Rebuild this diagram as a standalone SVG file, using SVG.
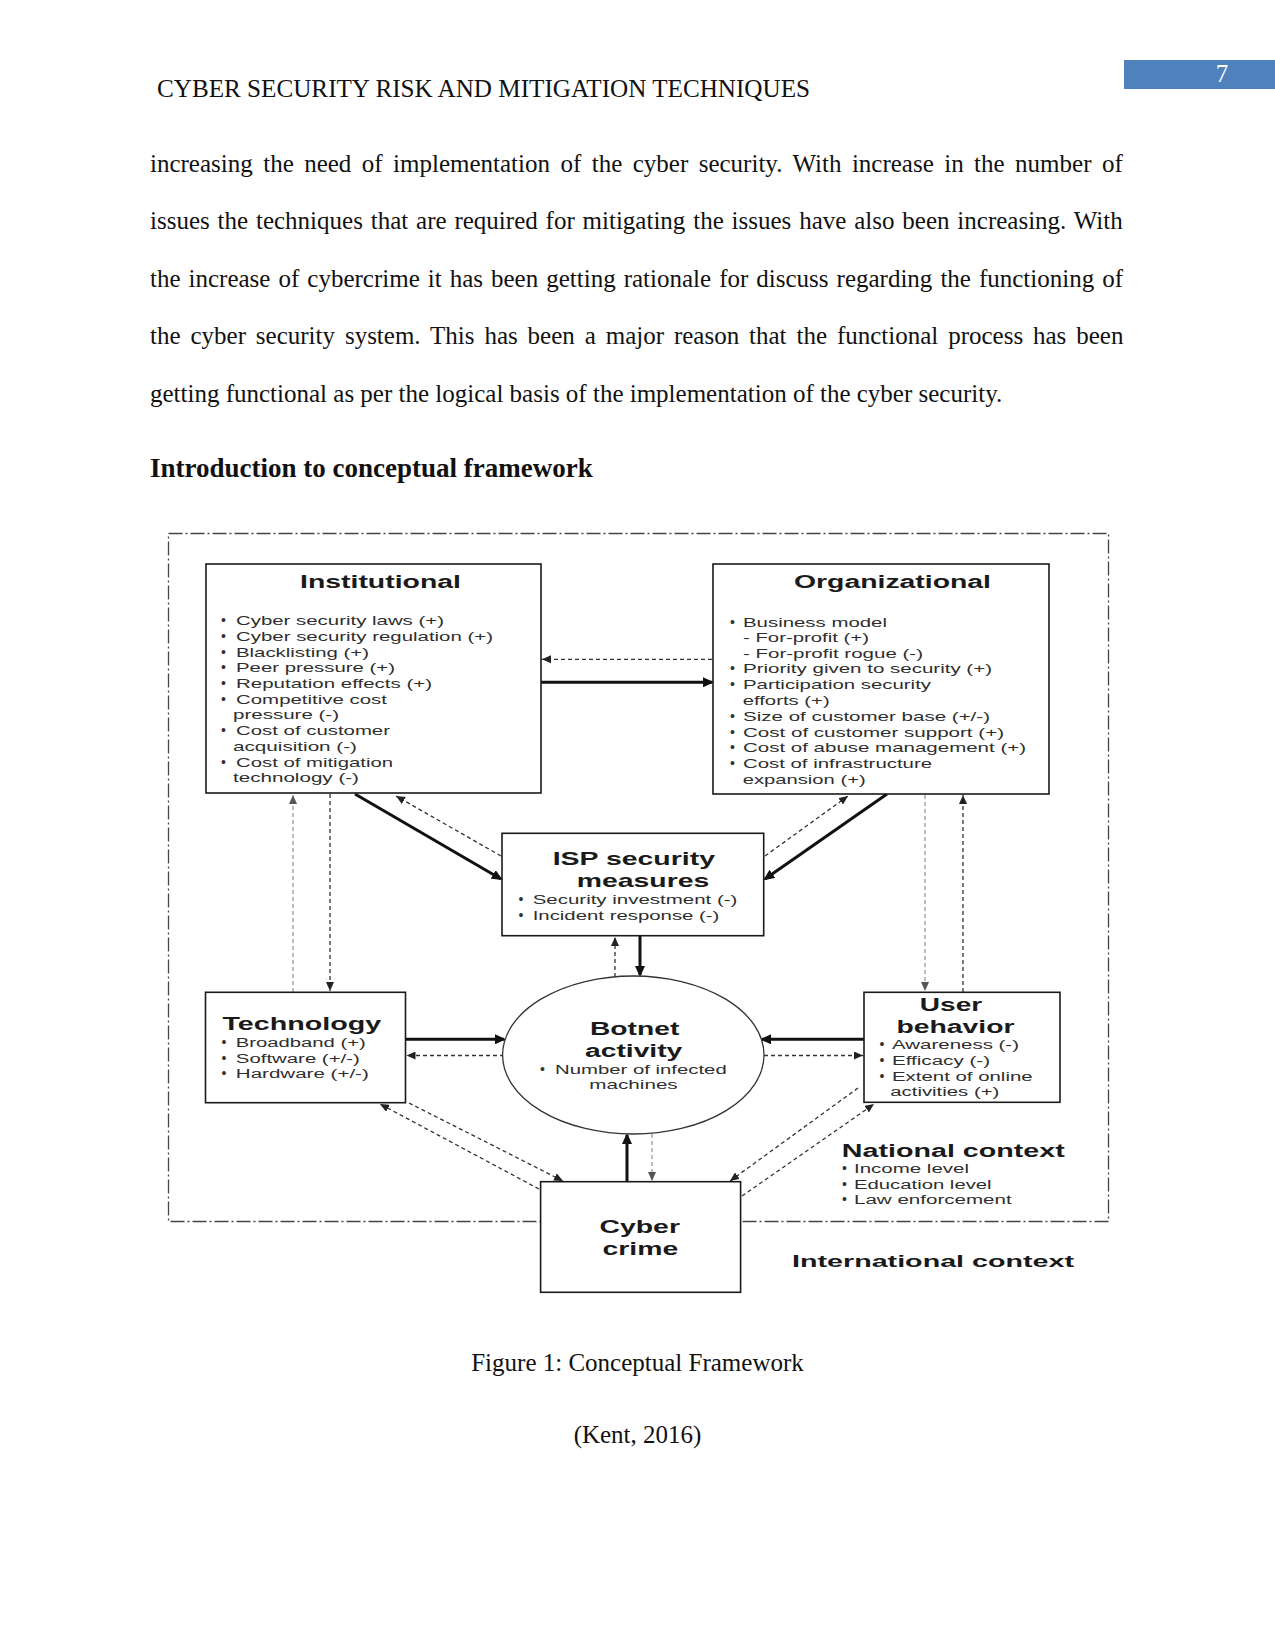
<svg xmlns="http://www.w3.org/2000/svg" width="1275" height="1651" viewBox="0 0 1275 1651">
<style>
.t{font-family:"Liberation Serif","Times New Roman",serif;font-size:25px;fill:#111}
.hd{font-weight:bold;font-size:27px}
.dt{font-family:"Liberation Sans",Arial,sans-serif;font-weight:bold;fill:#1a1a1a}
.di{font-family:"Liberation Sans",Arial,sans-serif;fill:#2e2e2e;font-size:13.5px}
.ds{font-size:12.5px}
.bul{font-family:"Liberation Sans",Arial,sans-serif;fill:#333;font-size:14px}
.box{fill:#fff;stroke:#1a1a1a;stroke-width:1.6}
.solid{stroke:#111;stroke-width:3;fill:none}
.dash{stroke:#333;stroke-width:1.3;stroke-dasharray:4 3;fill:none}
.dashl{stroke:#9a9a9a;stroke-width:1.3;stroke-dasharray:4 3;fill:none}
.border{fill:none;stroke:#444;stroke-width:1.3;stroke-dasharray:14 3 2 3}
</style>
<defs>
<marker id="as" markerUnits="userSpaceOnUse" markerWidth="12" markerHeight="10" refX="9" refY="5" orient="auto"><path d="M0,0 L11,5 L0,10 z" fill="#111"/></marker>
<marker id="ad" markerUnits="userSpaceOnUse" markerWidth="10" markerHeight="8" refX="9" refY="4" orient="auto"><path d="M0,0 L9,4 L0,8 z" fill="#222"/></marker>
<marker id="al" markerUnits="userSpaceOnUse" markerWidth="10" markerHeight="8" refX="9" refY="4" orient="auto"><path d="M0,0 L9,4 L0,8 z" fill="#555"/></marker>
</defs>
<rect width="1275" height="1651" fill="#fff"/>

<g id="page-header">
<text class="t" x="157" y="97" textLength="653" lengthAdjust="spacingAndGlyphs">CYBER SECURITY RISK AND MITIGATION TECHNIQUES</text>
<rect x="1124" y="60" width="151" height="29" fill="#4f81bd"/>
<text class="t" x="1222" y="82" text-anchor="middle" style="fill:#fff">7</text>
</g>

<g id="body-text">
<text class="t" x="150" y="172" word-spacing="4.2">increasing the need of implementation of the cyber security. With increase in the number of</text>
<text class="t" x="150" y="229" word-spacing="1.6">issues the techniques that are required for mitigating the issues have also been increasing. With</text>
<text class="t" x="150" y="286.5" word-spacing="1.77">the increase of cybercrime it has been getting rationale for discuss regarding the functioning of</text>
<text class="t" x="150" y="344" word-spacing="3.65">the cyber security system. This has been a major reason that the functional process has been</text>
<text class="t" x="150" y="401.5">getting functional as per the logical basis of the implementation of the cyber security.</text>
<text class="t hd" x="150" y="477">Introduction to conceptual framework</text>
</g>

<rect id="national-border" class="border" x="168.5" y="533.5" width="940" height="688"/>

<g id="connectors">
<line class="solid" x1="541" y1="682.3" x2="712" y2="682.3" marker-end="url(#as)"/>
<line class="dash" x1="712" y1="659.3" x2="542" y2="659.3" marker-end="url(#ad)"/>
<line class="solid" x1="355" y1="794" x2="501" y2="879" marker-end="url(#as)"/>
<line class="dash" x1="501" y1="856" x2="396" y2="796" marker-end="url(#ad)"/>
<line class="solid" x1="887" y1="794" x2="765" y2="879" marker-end="url(#as)"/>
<line class="dash" x1="765" y1="856" x2="848" y2="796" marker-end="url(#ad)"/>
<line class="dashl" x1="293" y1="992" x2="293" y2="795" marker-end="url(#al)"/>
<line class="dash" x1="330" y1="794" x2="330" y2="991" marker-end="url(#ad)"/>
<line class="dashl" x1="925" y1="795" x2="925" y2="991" marker-end="url(#al)"/>
<line class="dash" x1="963" y1="992" x2="963" y2="795" marker-end="url(#ad)"/>
<line class="solid" x1="640" y1="936" x2="640" y2="975" marker-end="url(#as)"/>
<line class="dash" x1="615" y1="977" x2="615" y2="937" marker-end="url(#ad)"/>
<line class="solid" x1="405.5" y1="1039.3" x2="504" y2="1039.3" marker-end="url(#as)"/>
<line class="dash" x1="504" y1="1055.5" x2="406.5" y2="1055.5" marker-end="url(#ad)"/>
<line class="solid" x1="864" y1="1039.3" x2="762" y2="1039.3" marker-end="url(#as)"/>
<line class="dash" x1="764" y1="1055.5" x2="863" y2="1055.5" marker-end="url(#ad)"/>
<line class="solid" x1="627" y1="1182" x2="627" y2="1135" marker-end="url(#as)"/>
<line class="dashl" x1="652" y1="1134" x2="652" y2="1181" marker-end="url(#al)"/>
<line class="dash" x1="539" y1="1189" x2="380" y2="1104" marker-end="url(#ad)"/>
<line class="dash" x1="409" y1="1103" x2="563" y2="1181" marker-end="url(#ad)"/>
<line class="dash" x1="858" y1="1088" x2="730" y2="1181" marker-end="url(#ad)"/>
<line class="dash" x1="742" y1="1196" x2="874" y2="1104" marker-end="url(#ad)"/>
</g>

<g id="institutional">
<rect class="box" x="206" y="564" width="335" height="229"/>
<text class="dt" x="300" y="588" font-size="18" textLength="161" lengthAdjust="spacingAndGlyphs">Institutional</text>
<text class="bul" x="221" y="625">•</text><text class="di" x="236" y="625" textLength="208" lengthAdjust="spacingAndGlyphs">Cyber security laws (+)</text>
<text class="bul" x="221" y="640.7">•</text><text class="di" x="236" y="640.7" textLength="257" lengthAdjust="spacingAndGlyphs">Cyber security regulation (+)</text>
<text class="bul" x="221" y="656.7">•</text><text class="di" x="236" y="656.7" textLength="133" lengthAdjust="spacingAndGlyphs">Blacklisting (+)</text>
<text class="bul" x="221" y="672.3">•</text><text class="di" x="236" y="672.3" textLength="159" lengthAdjust="spacingAndGlyphs">Peer pressure (+)</text>
<text class="bul" x="221" y="688">•</text><text class="di" x="236" y="688" textLength="196" lengthAdjust="spacingAndGlyphs">Reputation effects (+)</text>
<text class="bul" x="221" y="704">•</text><text class="di" x="236" y="704" textLength="151" lengthAdjust="spacingAndGlyphs">Competitive cost</text>
<text class="di" x="233" y="719.3" textLength="106" lengthAdjust="spacingAndGlyphs">pressure (-)</text>
<text class="bul" x="221" y="735.3">•</text><text class="di" x="236" y="735.3" textLength="154" lengthAdjust="spacingAndGlyphs">Cost of customer</text>
<text class="di" x="233" y="750.7" textLength="124" lengthAdjust="spacingAndGlyphs">acquisition (-)</text>
<text class="bul" x="221" y="766.7">•</text><text class="di" x="236" y="766.7" textLength="157" lengthAdjust="spacingAndGlyphs">Cost of mitigation</text>
<text class="di" x="233" y="782" textLength="126" lengthAdjust="spacingAndGlyphs">technology (-)</text>
</g>

<g id="organizational">
<rect class="box" x="713" y="564" width="336" height="230"/>
<text class="dt" x="794" y="588" font-size="18" textLength="197" lengthAdjust="spacingAndGlyphs">Organizational</text>
<text class="bul" x="730" y="626.7">•</text><text class="di" x="743" y="626.7" textLength="144" lengthAdjust="spacingAndGlyphs">Business model</text>
<text class="di" x="743" y="641.7" textLength="126" lengthAdjust="spacingAndGlyphs">- For-profit (+)</text>
<text class="di" x="743" y="657.7" textLength="180" lengthAdjust="spacingAndGlyphs">- For-profit rogue (-)</text>
<text class="bul" x="730" y="673.3">•</text><text class="di" x="743" y="673.3" textLength="249" lengthAdjust="spacingAndGlyphs">Priority given to security (+)</text>
<text class="bul" x="730" y="689.3">•</text><text class="di" x="743" y="689.3" textLength="188" lengthAdjust="spacingAndGlyphs">Participation security</text>
<text class="di" x="742.7" y="705" textLength="87" lengthAdjust="spacingAndGlyphs">efforts (+)</text>
<text class="bul" x="730" y="721">•</text><text class="di" x="743" y="721" textLength="247" lengthAdjust="spacingAndGlyphs">Size of customer base (+/-)</text>
<text class="bul" x="730" y="736.7">•</text><text class="di" x="743" y="736.7" textLength="261" lengthAdjust="spacingAndGlyphs">Cost of customer support (+)</text>
<text class="bul" x="730" y="752.3">•</text><text class="di" x="743" y="752.3" textLength="283" lengthAdjust="spacingAndGlyphs">Cost of abuse management (+)</text>
<text class="bul" x="730" y="768.3">•</text><text class="di" x="743" y="768.3" textLength="189" lengthAdjust="spacingAndGlyphs">Cost of infrastructure</text>
<text class="di" x="742.7" y="784" textLength="123" lengthAdjust="spacingAndGlyphs">expansion (+)</text>
</g>

<g id="isp-security-measures">
<rect class="box" x="502" y="833.3" width="261.7" height="102.4"/>
<text class="dt" x="552.7" y="865" font-size="19" textLength="162.3" lengthAdjust="spacingAndGlyphs">ISP security</text>
<text class="dt" x="576.7" y="886.7" font-size="19" textLength="132.6" lengthAdjust="spacingAndGlyphs">measures</text>
<text class="bul" x="518.5" y="904.3">•</text><text class="di" x="532.7" y="904.3" font-size="14" textLength="204.7" lengthAdjust="spacingAndGlyphs">Security investment (-)</text>
<text class="bul" x="518.5" y="920">•</text><text class="di" x="532.7" y="920" font-size="14" textLength="186.7" lengthAdjust="spacingAndGlyphs">Incident response (-)</text>
</g>

<g id="botnet-activity">
<ellipse cx="633.3" cy="1055" rx="130.7" ry="79" fill="#fff" stroke="#333" stroke-width="1.3"/>
<text class="dt" x="590" y="1035" font-size="18" textLength="89.3" lengthAdjust="spacingAndGlyphs">Botnet</text>
<text class="dt" x="585" y="1056.7" font-size="18" textLength="97.3" lengthAdjust="spacingAndGlyphs">activity</text>
<text class="bul" x="540" y="1074">•</text><text class="di" x="555" y="1074" textLength="171.7" lengthAdjust="spacingAndGlyphs">Number of infected</text>
<text class="di" x="589.3" y="1089.3" textLength="88.4" lengthAdjust="spacingAndGlyphs">machines</text>
</g>

<g id="technology">
<rect class="box" x="205.5" y="992.3" width="200" height="110.4"/>
<text class="dt" x="222.4" y="1030" font-size="17.5" textLength="158.8" lengthAdjust="spacingAndGlyphs">Technology</text>
<text class="bul" x="221.5" y="1047.3">•</text><text class="di ds" x="235.8" y="1047.3" textLength="130" lengthAdjust="spacingAndGlyphs">Broadband (+)</text>
<text class="bul" x="221.5" y="1062.7">•</text><text class="di ds" x="235.8" y="1062.7" textLength="124" lengthAdjust="spacingAndGlyphs">Software (+/-)</text>
<text class="bul" x="221.5" y="1078.3">•</text><text class="di ds" x="235.8" y="1078.3" textLength="133" lengthAdjust="spacingAndGlyphs">Hardware (+/-)</text>
</g>

<g id="user-behavior">
<rect class="box" x="864" y="992.3" width="196" height="110"/>
<text class="dt" x="919.8" y="1011" font-size="17.5" textLength="62.4" lengthAdjust="spacingAndGlyphs">User</text>
<text class="dt" x="896.4" y="1032.7" font-size="17.5" textLength="118.1" lengthAdjust="spacingAndGlyphs">behavior</text>
<text class="bul" x="879.5" y="1049.3">•</text><text class="di ds" x="892" y="1049.3" textLength="127" lengthAdjust="spacingAndGlyphs">Awareness (-)</text>
<text class="bul" x="879.5" y="1065">•</text><text class="di ds" x="892" y="1065" textLength="98" lengthAdjust="spacingAndGlyphs">Efficacy (-)</text>
<text class="bul" x="879.5" y="1080.7">•</text><text class="di ds" x="892" y="1080.7" textLength="140.6" lengthAdjust="spacingAndGlyphs">Extent of online</text>
<text class="di ds" x="890.3" y="1096" textLength="109" lengthAdjust="spacingAndGlyphs">activities (+)</text>
</g>

<g id="national-context">
<text class="dt" x="841.8" y="1157.3" font-size="17.5" textLength="223" lengthAdjust="spacingAndGlyphs">National context</text>
<text class="bul" x="842" y="1173.3">•</text><text class="di ds" x="854" y="1173.3" textLength="115" lengthAdjust="spacingAndGlyphs">Income level</text>
<text class="bul" x="842" y="1189.3">•</text><text class="di ds" x="854" y="1189.3" textLength="137.6" lengthAdjust="spacingAndGlyphs">Education level</text>
<text class="bul" x="842" y="1204.3">•</text><text class="di ds" x="854" y="1204.3" textLength="157.6" lengthAdjust="spacingAndGlyphs">Law enforcement</text>
</g>

<g id="cyber-crime">
<rect class="box" x="540.6" y="1181.7" width="200" height="110.6"/>
<text class="dt" x="599.4" y="1233.3" font-size="17.5" textLength="80.6" lengthAdjust="spacingAndGlyphs">Cyber</text>
<text class="dt" x="602.4" y="1255" font-size="17.5" textLength="75.8" lengthAdjust="spacingAndGlyphs">crime</text>
</g>

<g id="international-context">
<text class="dt" x="792" y="1266.7" font-size="17" textLength="282" lengthAdjust="spacingAndGlyphs">International context</text>
</g>

<g id="caption">
<text class="t" x="637.5" y="1370.7" text-anchor="middle">Figure 1: Conceptual Framework</text>
<text class="t" x="637.5" y="1443.3" text-anchor="middle">(Kent, 2016)</text>
</g>
</svg>
